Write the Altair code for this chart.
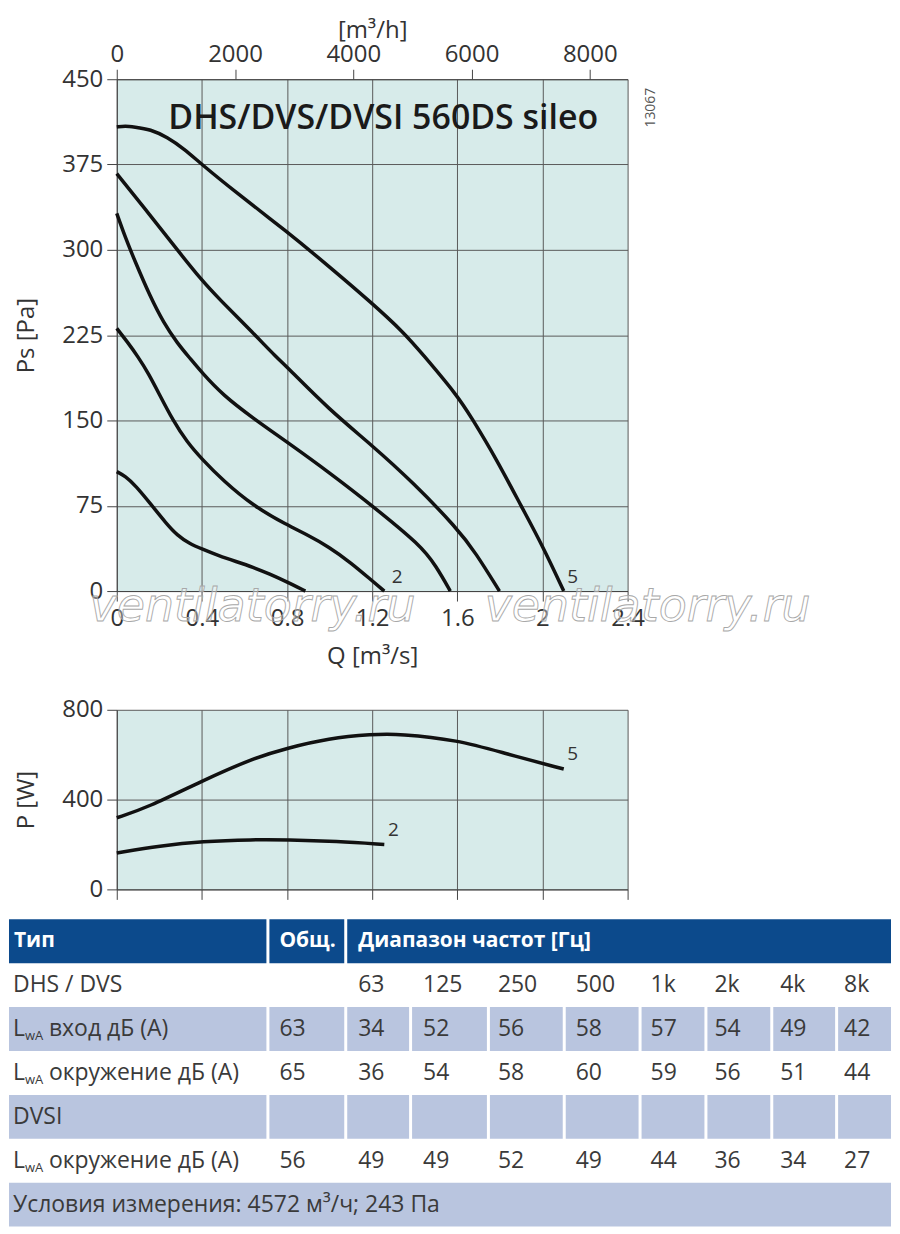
import altair as alt
import pandas as pd

FONT = "Open Sans"
TXT = "#333333"
GRID = "#5a5a5a"
PLOT_BG = "#d7ebea"
HEAD_BG = "#0c4a8c"
LIGHT_BG = "#b9c5df"

# ---------------- static pressure curves (Q in m3/s, Ps in Pa)
C1_Q = [0, 0.04, 0.087, 0.166, 0.23, 0.284, 0.34, 0.4, 0.48, 0.56, 0.64, 0.718, 0.8, 0.886]
C1_PS = [105, 101, 93, 75, 60, 49, 42, 37, 31, 26, 21, 15, 8, 0]
C2_Q = [0, 0.05, 0.1, 0.15, 0.2, 0.264, 0.33, 0.4, 0.5, 0.64, 0.8, 0.9, 0.995, 1.1, 1.2, 1.257]
C2_PS = [231, 219, 206, 191, 173, 150, 131, 116, 97, 75, 58, 49, 39, 25, 9, 0]
C3_Q = [0, 0.04, 0.081, 0.159, 0.22, 0.284, 0.347, 0.4, 0.5, 0.64, 0.8, 1.0, 1.2, 1.429, 1.5, 1.567]
C3_PS = [332, 311, 292, 258, 236, 218, 204, 192, 172, 152, 131, 104, 75, 40, 22, 0]
C4_Q = [0, 0.146, 0.284, 0.4, 0.48, 0.64, 0.753, 0.8, 0.995, 1.2, 1.389, 1.6, 1.685, 1.798]
C4_PS = [367, 333, 300, 273, 257, 227, 205, 197, 160, 128, 96, 55, 34, 0]
C5_Q = [0, 0.04, 0.081, 0.159, 0.237, 0.315, 0.4, 0.55, 0.8, 1.0, 1.2, 1.35, 1.429, 1.6, 1.665, 1.784, 1.902, 2.0, 2.1]
C5_PS = [408, 409, 408, 406, 399, 389, 375, 352, 316, 285, 253, 227, 210, 172, 153, 116, 74, 40, 0]

PS_LABELS = ["2", "5"]
PS_LABEL_Q = [1.317, 2.142]
PS_LABEL_PS = [12, 12]

# ---------------- power curves (Q in m3/s, P in W)
P5_Q = [0, 0.146, 0.4, 0.64, 0.8, 0.995, 1.2, 1.33, 1.6, 1.823, 2.1]
P5_W = [319, 365, 483, 584, 629, 673, 691, 693, 666, 606, 536]
P2_Q = [0, 0.205, 0.4, 0.64, 0.8, 1.034, 1.257]
P2_W = [162, 194, 214, 222, 221, 214, 200]

P_LABELS = ["2", "5"]
P_LABEL_Q = [1.30, 2.142]
P_LABEL_W = [265, 604]

# ---------------- axis ticks
Q_TICKS = [0, 0.4, 0.8, 1.2, 1.6, 2.0, 2.4]
QH_TICKS = [0, 2000, 4000, 6000, 8000]
PS_TICKS = [0, 75, 150, 225, 300, 375, 450]
P_TICKS = [0, 400, 800]

# ---------------- texts
TITLE = ["DHS/DVS/DVSI 560DS sileo"]
TITLE_Q = [1.252]
TITLE_PS = [406]
CODE = ["13067"]
CODE_Q = [2.508]
CODE_PS = [425]
WATERMARK = ["ventilatorry.ru", "ventilatorry.ru"]
WATERMARK_Q = [0.638, 2.494]
WATERMARK_PS = [-26, -26]

# ---------------- sound table
HEADER = ["Тип", "Общ.", "Диапазон частот [Гц]"]
FREQS = ["63", "125", "250", "500", "1k", "2k", "4k", "8k"]
ROW_MAIN = ["DHS / DVS", "вход дБ (А)", "окружение дБ (А)", "DVSI", "окружение дБ (А)"]
ROW_LWA = [False, True, True, False, True]
ROW_TOTAL = ["", "63", "65", "", "56"]
LWA_IN = [34, 52, 56, 58, 57, 54, 49, 42]
LWA_ENV = [36, 54, 58, 60, 59, 56, 51, 44]
DVSI_ENV = [49, 49, 52, 49, 44, 36, 34, 27]
FOOTER = "Условия измерения: 4572 м³/ч; 243 Па"

# table layout (units = pixels from the table's left edge)
TABLE_W = 884
TABLE_OFFSET = 108   # table starts this far left of the plots' left edge
ROW_H = 44
N_ROWS = 7
HEAD_BOXES = [(0, 258), (261, 336), (339, 884)]
CELL_BOXES = [(0, 258), (261, 336), (339, 401), (404, 479), (482, 555),
              (558, 631), (634, 697), (700, 763), (766, 828), (831, 884)]
HEAD_TEXT_X = [5, 271, 350]
CELL_TEXT_X = [4, 271, 350, 415, 490, 568, 643, 707, 773, 837]
LIGHT_CELL_ROWS = [2, 4]
LIGHT_FULL_ROWS = [6]

# ================= data frames
curves = []
for name, qs, ps in [("1", C1_Q, C1_PS), ("2", C2_Q, C2_PS), ("3", C3_Q, C3_PS),
                     ("4", C4_Q, C4_PS), ("5", C5_Q, C5_PS)]:
    for q, p in zip(qs, ps):
        curves.append({"curve": name, "Q": q, "Ps": p})
df_ps = pd.DataFrame(curves)

pw = []
for name, qs, ws in [("2", P2_Q, P2_W), ("5", P5_Q, P5_W)]:
    for q, w in zip(qs, ws):
        pw.append({"curve": name, "Q": q, "P": w})
df_p = pd.DataFrame(pw)

XS = alt.Scale(domain=[0, 2.4], nice=False, zero=False)
YS = alt.Scale(domain=[0, 450], nice=False)
YP = alt.Scale(domain=[0, 800], nice=False)

X_AX = alt.Axis(values=Q_TICKS, format=".1~f", title="Q [m³/s]", grid=True,
                labelFlush=False, labelOverlap=False, tickSize=10,
                labelPadding=6, titlePadding=14)
Y_AX = alt.Axis(values=PS_TICKS, title="Ps [Pa]", grid=True, tickSize=10,
                labelPadding=4, titleX=-78)


def xq():
    return alt.X("Q:Q", scale=XS, axis=X_AX)


def yps():
    return alt.Y("Ps:Q", scale=YS, axis=Y_AX)


lines_ps = alt.Chart(df_ps).mark_line(color="#111111", strokeWidth=3.5, interpolate="basis").encode(
    x=xq(), y=yps(), detail="curve:N")

lab_ps = alt.Chart(pd.DataFrame({"t": PS_LABELS, "Q": PS_LABEL_Q, "Ps": PS_LABEL_PS})).mark_text(
    font=FONT, fontSize=19, color=TXT, align="center", baseline="middle").encode(
    x=xq(), y=yps(), text="t:N")

title_txt = alt.Chart(pd.DataFrame({"t": TITLE, "Q": TITLE_Q, "Ps": TITLE_PS})).mark_text(
    font=FONT, fontSize=34, fontWeight=600, color="#1a1a1a", align="center", baseline="alphabetic").encode(
    x=xq(), y=yps(), text="t:N")

code_txt = alt.Chart(pd.DataFrame({"t": CODE, "Q": CODE_Q, "Ps": CODE_PS})).mark_text(
    font=FONT, fontSize=14, color="#555555", align="center", baseline="middle", angle=270).encode(
    x=xq(), y=yps(), text="t:N")

wm_txt = alt.Chart(pd.DataFrame({"t": WATERMARK, "Q": WATERMARK_Q, "Ps": WATERMARK_PS})).mark_text(
    font="DejaVu Sans", fontSize=46, fontStyle="italic", fill="#ffffff", fillOpacity=0.35,
    stroke="#a8a8a8", strokeWidth=0.9, align="center", baseline="alphabetic").encode(
    x=xq(), y=yps(), text="t:N")

inner = alt.layer(lines_ps, lab_ps, title_txt, code_txt, wm_txt)

top_axis = alt.Chart(df_ps[df_ps["curve"] == "5"]).transform_calculate(
    Qh="datum.Q * 3600").mark_line(opacity=0).encode(
    x=alt.X("Qh:Q", scale=alt.Scale(domain=[0, 8640], nice=False),
            axis=alt.Axis(orient="top", values=QH_TICKS, format="d", title="[m³/h]", grid=False,
                          labelFlush=False, labelOverlap=False, tickSize=10,
                          labelPadding=3, titlePadding=0)),
    y=yps(),
)

top = alt.layer(inner, top_axis).resolve_scale(x="independent").properties(
    width=512, height=513, view=alt.ViewBackground(fill=PLOT_BG, stroke="transparent"))

# ---------------- power panel
XP_AX = alt.Axis(values=Q_TICKS, labels=False, title=None, grid=True, tickSize=10)
YP_AX = alt.Axis(values=P_TICKS, title="P [W]", grid=True, tickSize=10, labelPadding=4, titleX=-78)

lines_p = alt.Chart(df_p).mark_line(color="#111111", strokeWidth=3.5, interpolate="basis").encode(
    x=alt.X("Q:Q", scale=XS, axis=XP_AX),
    y=alt.Y("P:Q", scale=YP, axis=YP_AX),
    detail="curve:N",
)
lab_p = alt.Chart(pd.DataFrame({"t": P_LABELS, "Q": P_LABEL_Q, "P": P_LABEL_W})).mark_text(
    font=FONT, fontSize=19, color=TXT, align="center", baseline="middle").encode(
    x=alt.X("Q:Q", scale=XS, axis=XP_AX), y=alt.Y("P:Q", scale=YP, axis=YP_AX), text="t:N")

power = alt.layer(lines_p, lab_p).properties(
    width=512, height=180, view=alt.ViewBackground(fill=PLOT_BG, stroke="transparent"))

# ---------------- table panel
rects = []
for (a, b) in HEAD_BOXES:
    rects.append({"x1": a, "x2": b, "r1": 0, "r2": 1, "fill": HEAD_BG})
for r in LIGHT_CELL_ROWS:
    for (a, b) in CELL_BOXES:
        rects.append({"x1": a, "x2": b, "r1": r, "r2": r + 1, "fill": LIGHT_BG})
for r in LIGHT_FULL_ROWS:
    rects.append({"x1": 0, "x2": TABLE_W, "r1": r, "r2": r + 1, "fill": LIGHT_BG})
df_rect = pd.DataFrame(rects)

TX = alt.Scale(domain=[TABLE_OFFSET, TABLE_W], nice=False, zero=False)
TY = alt.Scale(domain=[0, N_ROWS], nice=False, reverse=True)

head_txt = [{"x": HEAD_TEXT_X[i], "r": 0.5, "t": HEADER[i]} for i in range(3)]

body = []
body_sub = []
for i, f in enumerate(FREQS):
    body.append({"x": CELL_TEXT_X[2 + i], "r": 1.5, "t": f})
value_rows = {2: LWA_IN, 3: LWA_ENV, 5: DVSI_ENV}
for k in range(5):
    r = k + 1
    if ROW_LWA[k]:
        body.append({"x": CELL_TEXT_X[0], "r": r + 0.5, "t": "L"})
        body_sub.append({"x": CELL_TEXT_X[0] + 12, "r": r + 0.5, "t": "wA"})
        body.append({"x": CELL_TEXT_X[0] + 36, "r": r + 0.5, "t": ROW_MAIN[k]})
    else:
        body.append({"x": CELL_TEXT_X[0], "r": r + 0.5, "t": ROW_MAIN[k]})
    if ROW_TOTAL[k]:
        body.append({"x": CELL_TEXT_X[1], "r": r + 0.5, "t": ROW_TOTAL[k]})
    if r in value_rows:
        for i, v in enumerate(value_rows[r]):
            body.append({"x": CELL_TEXT_X[2 + i], "r": r + 0.5, "t": str(v)})
body.append({"x": CELL_TEXT_X[0], "r": 6.5, "t": FOOTER})

t_rect = alt.Chart(df_rect).mark_rect().encode(
    x=alt.X("x1:Q", scale=TX, axis=None), x2="x2:Q",
    y=alt.Y("r1:Q", scale=TY, axis=None), y2="r2:Q",
    fill=alt.Fill("fill:N", scale=None))
t_head = alt.Chart(pd.DataFrame(head_txt)).mark_text(
    font=FONT, fontSize=21, fontWeight="bold", color="#ffffff", align="left", baseline="middle").encode(
    x=alt.X("x:Q", scale=TX, axis=None), y=alt.Y("r:Q", scale=TY, axis=None), text="t:N")
t_body = alt.Chart(pd.DataFrame(body)).mark_text(
    font=FONT, fontSize=23, color="#3a3a3a", align="left", baseline="middle").encode(
    x=alt.X("x:Q", scale=TX, axis=None), y=alt.Y("r:Q", scale=TY, axis=None), text="t:N")
t_sub = alt.Chart(pd.DataFrame(body_sub)).mark_text(
    font=FONT, fontSize=13, color="#3a3a3a", align="left", baseline="middle", dy=7).encode(
    x=alt.X("x:Q", scale=TX, axis=None), y=alt.Y("r:Q", scale=TY, axis=None), text="t:N")

table = alt.layer(t_rect, t_head, t_body, t_sub).properties(
    width=TABLE_W - TABLE_OFFSET, height=ROW_H * N_ROWS,
    view=alt.ViewBackground(fill="transparent", stroke="transparent"))

upper = alt.vconcat(top, power, spacing=27)
chart = alt.vconcat(upper, table, spacing=16).properties(
    padding={"top": 8, "left": 0, "right": 0, "bottom": 0},
    background="#ffffff",
).configure_axis(
    labelFont=FONT, labelFontSize=24, labelColor=TXT,
    titleFont=FONT, titleFontSize=24, titleFontWeight="normal", titleColor=TXT,
    tickColor="#444444", domainColor="#444444", gridColor=GRID, gridWidth=1,
    tickWidth=1, domainWidth=1,
).configure_view(stroke="transparent")

chart.save("out.html", embed_options={"renderer": "svg", "actions": False})
